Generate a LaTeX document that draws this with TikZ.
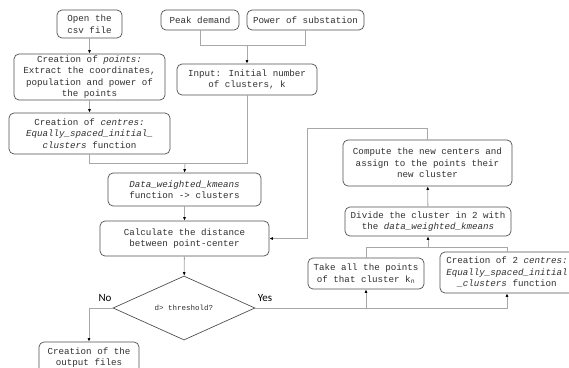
\documentclass[tikz,border=0pt]{standalone}
\usepackage{fontspec}
\setmainfont{Liberation Mono}
\newfontfamily\lblfont{Carlito}
\usetikzlibrary{shapes.geometric,arrows.meta}
\definecolor{boxline}{HTML}{505050}
\definecolor{linec}{HTML}{A8A8A8}
\definecolor{textc}{HTML}{303030}
\begin{document}
\begin{tikzpicture}[x=1pt,y=-1pt,
  box/.style={draw=boxline, rounded corners=5pt, align=center, text=textc,
    font=\fontsize{9.2}{11.5}\selectfont, inner sep=1pt, line width=0.7pt},
  conn/.style={draw=linec, line width=0.8pt},
  arr/.style={conn, -{Latex[length=3.5pt,width=3pt,color=black]}},
  lbl/.style={font=\lblfont\fontsize{11}{13}\selectfont, text=black}]
\useasboundingbox (0,0) rectangle (569,367);
\clip (0,0) rectangle (569,367);

\node[box, minimum width=65pt, minimum height=28pt] (open) at (89.5,24) {Open the\\csv file};
\node[box, minimum width=151pt, minimum height=46pt] (points) at (89.5,77)
  {Creation of \textit{points:}\\Extract the coordinates,\\population and power of\\the points};
\node[box, minimum width=161pt, minimum height=41pt] (centres) at (89.5,133.5)
  {Creation of \textit{centres:}\\\textit{Equally\_spaced\_initial\_}\\\textit{clusters} function};
\node[box, minimum width=78pt, minimum height=20pt] (peak) at (200,20) {Peak demand};
\node[box, minimum width=117pt, minimum height=20pt] (power) at (305.5,20) {Power of substation};
\node[box, minimum width=140pt, minimum height=31pt] (input) at (247,79.5) {Input: Initial number\\of clusters, k};
\node[box, minimum width=153pt, minimum height=33pt] (data) at (184.5,189.5)
  {\textit{Data\_weighted\_kmeans}\\function -> clusters};
\node[box, minimum width=169pt, minimum height=35pt] (calc) at (184.5,238.5)
  {Calculate the distance\\between point-center};
\node[draw=boxline, line width=0.7pt, diamond, inner sep=0pt, minimum width=142pt, minimum height=56pt,
  text=textc, font=\fontsize{7.5}{9}\selectfont] (dia) at (184,308) {d> threshold?};
\node[box, minimum width=100pt, minimum height=31pt] (out) at (89,357.5) {Creation of the\\output files};
\node[box, minimum width=169pt, minimum height=46pt] (compute) at (427.5,163)
  {Compute the new centers and\\assign to the points their\\new cluster};
\node[box, minimum width=166pt, minimum height=29pt] (divide) at (428,221.5)
  {Divide the cluster in 2 with\\the \textit{data\_weighted\_kmeans}};
\node[box, minimum width=116pt, minimum height=31pt] (take) at (366,273.5)
  {Take all the points\\of that cluster k\textsubscript{n}};
\node[box, minimum width=134pt, minimum height=41pt] (cent2) at (507,272.5)
  {Creation of 2 \textit{centres:}\\\textit{Equally\_spaced\_initial}\\\textit{\_clusters} function};

\node[lbl] (no) at (105,298) {No};
\node[lbl] (yes) at (265,298) {Yes};

\coordinate (j1) at (185,163);
\coordinate (j2) at (247,45);
\coordinate (j5) at (428,247);
\coordinate (j6) at (307,128);
\coordinate (j4) at (take.south |- dia.east);

\draw[arr] (open) -- (points);
\draw[arr] (points) -- (centres);
\draw[conn] (centres.south) |- (j1);
\draw[conn] (input.south) |- (j1);
\draw[arr] (j1) -- (data.north);
\draw[conn] (peak.south) |- (j2);
\draw[conn] (power.south) |- (j2);
\draw[arr] (j2) -- (input.north);
\draw[arr] (data) -- (calc);
\draw[arr] (calc) -- (dia);
\draw[arr] (dia.west) -| (out.north);
\draw[arr] (dia.east) -| (cent2.south);
\draw[arr] (j4) -- (take.south);
\draw[conn] (take.north) |- (j5);
\draw[conn] (cent2.north) |- (j5);
\draw[arr] (j5) -- (divide.south);
\draw[arr] (divide) -- (compute);
\draw[arr] (compute.north) |- (j6) |- (calc.east);
\end{tikzpicture}
\end{document}
